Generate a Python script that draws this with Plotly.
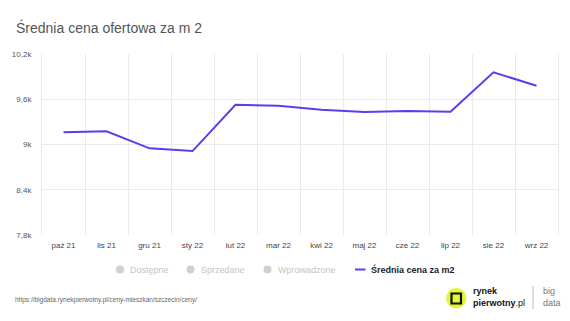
import plotly.graph_objects as go

months = ["paź 21", "lis 21", "gru 21", "sty 22", "lut 22", "mar 22", "kwi 22",
          "maj 22", "cze 22", "lip 22", "sie 22", "wrz 22"]
avg_price = [9163, 9176, 8949, 8913, 9527, 9513, 9460, 9430, 9443, 9433, 9957, 9780]
y_ticks = [7800, 8400, 9000, 9600, 10200]
y_tick_labels = ["7,8k", "8,4k", "9k", "9,6k", "10,2k"]
legend_off = ["Dostępne", "Sprzedane", "Wprowadzone"]
series_name = "Średnia cena za m2"

W, H = 570, 321
L, R, T, B = 42, 558, 54, 235
FONT = "Liberation Sans, Arial, sans-serif"


def px(x):
    return (x - L) / (R - L)


def py(y):
    return (B - y) / (B - T)


fig = go.Figure()
fig.add_trace(go.Scatter(
    x=months, y=avg_price, mode="lines", name=series_name,
    line=dict(color="#5a3cf2", width=2), showlegend=False,
    hoverinfo="x+y"))

shapes = []
annotations = []

# custom legend
leg_y = 269.5
dot_x = [120, 190.5, 267.5]
for name, dx in zip(legend_off, dot_x):
    shapes.append(dict(type="circle", xref="paper", yref="paper",
                       x0=px(dx - 4), x1=px(dx + 4), y0=py(leg_y + 4), y1=py(leg_y - 4),
                       fillcolor="#d0d0d0", line=dict(width=0)))
    annotations.append(dict(text=name, xref="paper", yref="paper", x=px(dx + 8), y=py(leg_y),
                            xanchor="left", yanchor="middle", showarrow=False,
                            font=dict(family=FONT, size=9, color="#c4c4c4")))
shapes.append(dict(type="line", xref="paper", yref="paper",
                   x0=px(355), x1=px(365.5), y0=py(leg_y), y1=py(leg_y),
                   line=dict(color="#5a3cf2", width=2)))
annotations.append(dict(text="<b>" + series_name + "</b>", xref="paper", yref="paper",
                        x=px(369), y=py(leg_y), xanchor="left", yanchor="middle",
                        showarrow=False, font=dict(family=FONT, size=9, color="#222")))

# title
annotations.append(dict(text="Średnia cena ofertowa za m 2", xref="paper", yref="paper",
                        x=px(14), y=py(27.5), xanchor="left", yanchor="middle", showarrow=False,
                        font=dict(family=FONT, size=14, color="#555")))
# footer url
annotations.append(dict(text="https://bigdata.rynekpierwotny.pl/ceny-mieszkan/szczecin/ceny/",
                        xref="paper", yref="paper", x=px(13), y=py(299.5), xanchor="left",
                        yanchor="middle", showarrow=False,
                        font=dict(family=FONT, size=6.5, color="#666")))

# logo
shapes.append(dict(type="circle", xref="paper", yref="paper",
                   x0=px(446), x1=px(466.5), y0=py(308.5), y1=py(288),
                   fillcolor="#e4f53a", line=dict(width=0)))
shapes.append(dict(type="rect", xref="paper", yref="paper",
                   x0=px(451.5), x1=px(461), y0=py(303.5), y1=py(293.5),
                   fillcolor="rgba(0,0,0,0)", line=dict(color="#111", width=2.2)))
annotations.append(dict(text="<b>rynek</b>", xref="paper", yref="paper", x=px(471), y=py(291),
                        xanchor="left", yanchor="middle", showarrow=False,
                        font=dict(family=FONT, size=9, color="#111")))
annotations.append(dict(text="<b>pierwotny</b>.pl", xref="paper", yref="paper", x=px(471), y=py(302.5),
                        xanchor="left", yanchor="middle", showarrow=False,
                        font=dict(family=FONT, size=9, color="#111")))
shapes.append(dict(type="line", xref="paper", yref="paper",
                   x0=px(533), x1=px(533), y0=py(286), y1=py(309),
                   line=dict(color="#bbb", width=1)))
annotations.append(dict(text="big", xref="paper", yref="paper", x=px(541), y=py(291),
                        xanchor="left", yanchor="middle", showarrow=False,
                        font=dict(family=FONT, size=9, color="#777")))
annotations.append(dict(text="data", xref="paper", yref="paper", x=px(541), y=py(302.5),
                        xanchor="left", yanchor="middle", showarrow=False,
                        font=dict(family=FONT, size=9, color="#777")))

fig.update_layout(
    width=W, height=H,
    margin=dict(l=L, r=W - R, t=T, b=H - B),
    paper_bgcolor="white", plot_bgcolor="white",
    showlegend=False,
    shapes=shapes, annotations=annotations,
    xaxis=dict(type="category", tickson="boundaries", showgrid=True, gridcolor="#ebebeb",
               gridwidth=1, ticks="", showline=False, zeroline=False,
               tickfont=dict(family=FONT, size=8, color="#444"), ticklabelstandoff=4,
               range=[-0.5, len(months) - 0.5], fixedrange=True),
    yaxis=dict(range=[y_ticks[0], y_ticks[-1]], tickvals=y_ticks, ticktext=y_tick_labels,
               showgrid=True, gridcolor="#ebebeb", gridwidth=1, zeroline=False, ticks="",
               showline=True, mirror=True, linecolor="#ebebeb", linewidth=1,
               tickfont=dict(family=FONT, size=8, color="#555"),
               ticklabelstandoff=8, fixedrange=True),
)

fig.write_html("out.html")
